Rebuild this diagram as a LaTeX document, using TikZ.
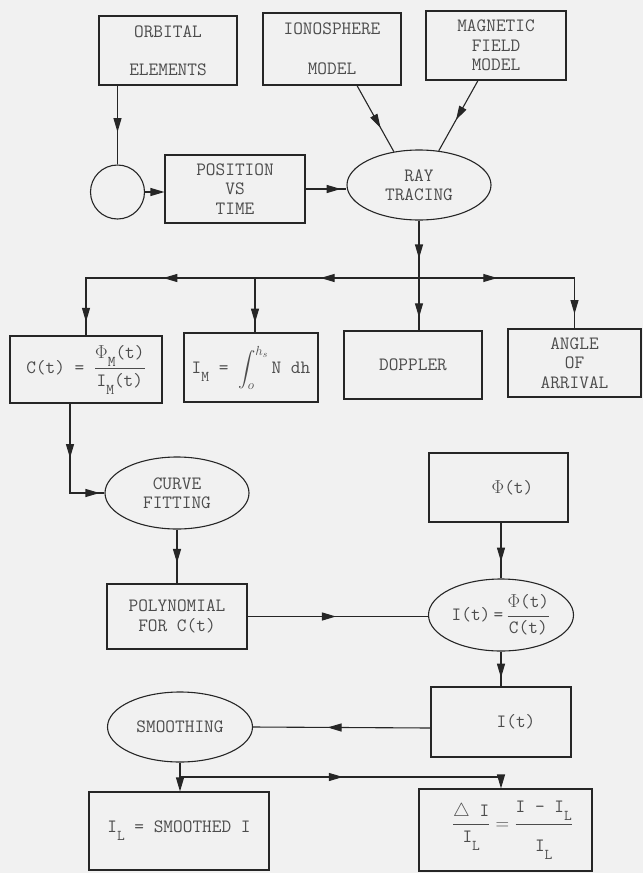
\RequirePackage{fix-cm}
\documentclass[tikz,border=0pt]{standalone}
\usepackage{amsmath}
\usetikzlibrary{shapes.geometric,arrows.meta,decorations.markings,calc}
\definecolor{bgc}{HTML}{F1F1F1}
\definecolor{ink}{HTML}{262626}
\definecolor{txt}{HTML}{4C4C4C}
\newcommand\sbx[1]{\raisebox{-8pt}{\fontsize{15}{15}\selectfont #1}}
\begin{document}
\begin{tikzpicture}[x=1pt,y=-1pt,
  >={Triangle[length=14pt,width=8pt]},
  every node/.style={font=\fontsize{18.8}{19.5}\selectfont\ttfamily,text=txt,align=center,inner sep=0pt},
  box/.style={draw=ink,line width=1.1pt,rectangle},
  oval/.style={draw=ink,line width=1.1pt,ellipse},
  circ/.style={draw=ink,line width=1.1pt,circle,minimum size=54pt},
  conn/.style={color=ink,line width=1.1pt},
  arr/.style={postaction={decorate},decoration={markings,mark=at position #1 with {\arrow{>}}}},
  arrtwo/.style 2 args={postaction={decorate},decoration={markings,mark=at position #1 with {\arrow{>}},mark=at position #2 with {\arrow{>}}}}
]
\path[use as bounding box,fill=bgc] (0,0) rectangle (643,873);

% nodes
\node[box,minimum width=138pt,minimum height=69pt] (orb) at (168,50.5) {ORBITAL\\[18pt]ELEMENTS};
\node[box,minimum width=138pt,minimum height=72pt] (iono) at (332,49) {IONOSPHERE\\[20pt]MODEL};
\node[box,minimum width=140pt,minimum height=69pt] (mag) at (496,45.5) {MAGNETIC\\FIELD\\MODEL};
\node[circ] (circ) at (117.5,192) {};
\node[box,minimum width=140pt,minimum height=68pt] (pos) at (235,189) {POSITION\\VS\\TIME};
\node[oval,minimum width=144pt,minimum height=70pt] (ray) at (419,185) {RAY\\TRACING};

\node[box,minimum width=152pt,minimum height=67pt] (ct) at (86,369.5)
  {C(t) = $\displaystyle\frac{\hbox{$\Phi$\sbx{M}(t)}}{\hbox{I\sbx{M}(t)}}$};
\node[box,minimum width=134pt,minimum height=69pt] (im) at (251,367.5)
  {I\sbx{M} = $\displaystyle\int_{o}^{h_s}$\,N dh};
\node[box,minimum width=138pt,minimum height=68pt] (dop) at (413,365) {DOPPLER};
\node[box,minimum width=133pt,minimum height=68pt] (ang) at (574.5,363) {ANGLE\\OF\\ARRIVAL};

\node[oval,minimum width=144pt,minimum height=72pt] (curve) at (177,493) {CURVE\\FITTING};
\node[box,minimum width=139pt,minimum height=69pt] (phi) at (498.5,487.5) {\hspace*{28pt}$\Phi$(t)};
\node[box,minimum width=140pt,minimum height=65pt] (poly) at (177,616.5) {POLYNOMIAL\\FOR C(t)};
\node[oval,minimum width=145pt,minimum height=72pt] (iell) at (501,615)
  {I(t)\,=\,$\displaystyle\frac{\hbox{$\Phi$(t)}}{\hbox{C(t)}}$};
\node[box,minimum width=140pt,minimum height=70pt] (ibox) at (501,722) {\hspace*{30pt}I(t)};
\node[oval,minimum width=145pt,minimum height=70pt] (smooth) at (180,727) {SMOOTHING};
\node[box,minimum width=180pt,minimum height=78pt] (il) at (179,831) {I\sbx{L} = SMOOTHED I};
\node[box,minimum width=173pt,minimum height=82pt] (di) at (505.5,830)
  {\hspace*{14pt}$\displaystyle\frac{\hbox{$\triangle$ I}}{\hbox{I\sbx{L}}} = \frac{\hbox{I - I\sbx{L}}\rule[-10pt]{0pt}{0pt}}{\rule{0pt}{24pt}\hbox{I\sbx{L}}}$};

% connectors
\draw[conn,arr=0.59] (orb.south -| circ.north) -- (circ.north);
\draw[conn,->] (circ.east) -- (circ.east -| pos.west);
\draw[conn,arr=0.86] (pos.east) -- (pos.east -| ray.west);
\draw[conn,arr=0.64] ($(iono.south)+(25,0)$) -- (ray.127);
\draw[conn,arr=0.56] ($(mag.south)+(-18,0)$) -- (ray.60);

\coordinate (j) at (ray.south |- 0,278);
\coordinate (jm) at (255,278);
\draw[conn,arr=0.66] (ray.south) -- (j);
\draw[conn,arr=0.75] (j) -- (j |- dop.north);
\draw[conn,arr=0.6] (j) -- (jm);
\draw[conn,arr=0.82] (jm) -- (jm |- im.north);
\draw[conn,arrtwo={0.405}{0.94}] (jm) -| (ct.north);
\draw[conn,arrtwo={0.38}{0.93}] (j) -| (ang.north);

\draw[conn,arrtwo={0.44}{0.96}] ($(ct.south)+(-16,0)$) |- (curve.west);
\draw[conn,arr=0.62] (curve.south) -- (poly.north);
\draw[conn,arr=0.49] (poly.east) -- (poly.east -| iell.west);
\draw[conn,arr=0.7] (iell.north |- phi.south) -- (iell.north);
\draw[conn,arr=0.75] (iell.south) -- (iell.south |- ibox.north);
\draw[conn,arr=0.58] ([yshift=-6pt]ibox.west) -- (smooth.east);

\coordinate (sb) at (smooth.south |- 0,777);
\draw[conn,->] (smooth.south) -- (smooth.south |- il.north);
\draw[conn,arr=0.49,->] (sb) -| ($(di.north)+(-4.5,0)$);
\end{tikzpicture}
\end{document}
